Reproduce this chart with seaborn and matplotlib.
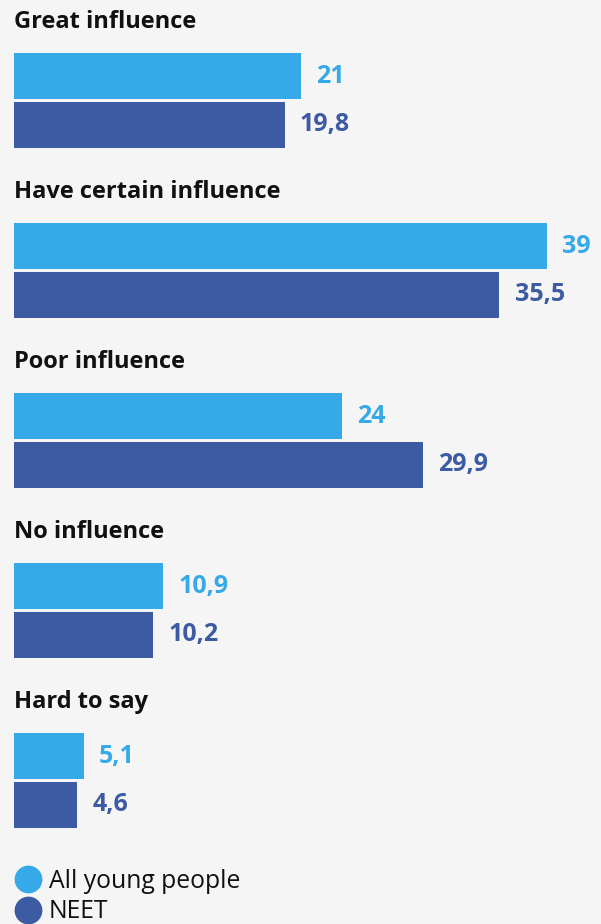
import numpy as np
import pandas as pd
import seaborn as sns
import matplotlib.pyplot as plt
from matplotlib.lines import Line2D

# Data
categories = ["Great influence", "Have certain influence", "Poor influence",
              "No influence", "Hard to say"]
all_young = [21, 39, 24, 10.9, 5.1]
neet = [19.8, 35.5, 29.9, 10.2, 4.6]
series = ["All young people", "NEET"]
colors = ["#36A9E8", "#3D5BA3"]

df = pd.DataFrame({
    "category": categories * 2,
    "series": [series[0]] * len(categories) + [series[1]] * len(categories),
    "value": all_young + neet,
})

sns.set_style("white")
plt.rcParams["font.family"] = ["Open Sans", "DejaVu Sans"]

bg = "#F5F5F5"
fig = plt.figure(figsize=(6.01, 9.24), dpi=100, facecolor=bg)
ax = fig.add_axes([14 / 601, 0, 587 / 601, 1])
ax.set_facecolor(bg)

sns.barplot(data=df, y="category", x="value", hue="series", order=categories,
            hue_order=series, palette=colors, orient="h", width=0.57, gap=0.053,
            saturation=1, legend=False, linewidth=0, ax=ax)

ax.set_xlim(0, 587 / 13.67)
ax.set_ylim((924 - 100.5) / 170, -100.5 / 170)

# value labels
for cont, col, vals in zip(ax.containers, colors, [all_young, neet]):
    labels = [f"{v:g}".replace(".", ",") for v in vals]
    ax.bar_label(cont, labels=labels, padding=11, color=col,
                 fontsize=18, fontweight="bold")

# group titles above each pair of bars
for i, cat in enumerate(categories):
    ax.text(0, i - 0.46, cat, ha="left", va="center", fontsize=17,
            fontweight="bold", color="#111111")

for s in ax.spines.values():
    s.set_visible(False)
ax.set_xticks([])
ax.set_yticks([])
ax.set_xlabel("")
ax.set_ylabel("")

handles = [Line2D([], [], marker="o", linestyle="", markersize=19,
                  markerfacecolor=c, markeredgecolor=c) for c in colors]
fig.legend(handles, series, loc="upper left", bbox_to_anchor=(0.5 / 601, 1 - 859 / 924),
           frameon=False, fontsize=17.8, handletextpad=0.15, labelspacing=0.22,
           borderaxespad=0, handlelength=1.4, labelcolor="#111111")

fig.savefig("out.png", dpi=100, facecolor=bg)
